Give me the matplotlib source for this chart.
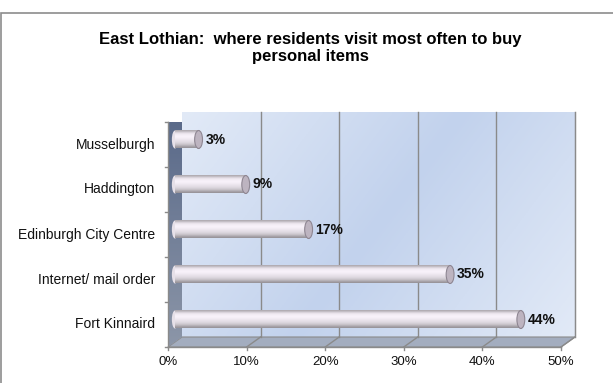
import numpy as np
import matplotlib
matplotlib.use("Agg")
import matplotlib.pyplot as plt
from matplotlib.patches import Polygon, Ellipse, Rectangle
from matplotlib.transforms import ScaledTranslation

plt.rcParams['font.family'] = ['Liberation Sans', 'DejaVu Sans']

# data (bottom to top)
places = ['Fort Kinnaird', 'Internet/ mail order', 'Edinburgh City Centre', 'Haddington', 'Musselburgh']
shares = [44, 35, 17, 9, 3]
xticks = [0, 10, 20, 30, 40, 50]
xlabels = ['0%', '10%', '20%', '30%', '40%', '50%']

fig = plt.figure(figsize=(6.13, 3.83), dpi=100)
ax = fig.add_axes([168/613, 36/383, (561-168)/613, 225/383])
ax.set_xlim(0, 50)
ax.set_ylim(-0.5, len(places) - 0.5)
ax.axis('off')

# outer frame
fig.patches.append(Rectangle((0.0015, -0.1), 1.2, 1.1 - 13/383, transform=fig.transFigure,
                             fill=False, ec='#8c8c8c', lw=1.2, zorder=-1))

# depth offsets for the 3d look
back = ax.transData + ScaledTranslation(0.14, 0.10, fig.dpi_scale_trans)
mid = ax.transData + ScaledTranslation(0.07, 0.05, fig.dpi_scale_trans)
y0, y1 = -0.5, len(places) - 0.5
to_data = ax.transData.inverted()

# back wall gradient
nx, ny = 200, 100
gx, gy = np.meshgrid(np.linspace(0, 1, nx), np.linspace(0, 1, ny))
t = np.abs((gx * 0.7 + (1 - gy) * 0.3) - 0.5) * 2
c_dark = np.array([194, 210, 237]) / 255
c_light = np.array([226, 234, 247]) / 255
wall = c_dark[None, None, :] * (1 - t[..., None]) + c_light[None, None, :] * t[..., None]
ax.imshow(wall, extent=(0, 50, y0, y1), transform=back, aspect='auto', zorder=0,
          origin='lower', clip_on=False)
ax.plot([50, 50], [y0, y1], transform=back, color='#a0a0a0', lw=0.8, zorder=1, clip_on=False)

# floor and left wall, points moved from back plane into data space
def pts(xy_list):
    out = []
    for (xa, ya), is_back in xy_list:
        p = (back if is_back else ax.transData).transform((xa, ya))
        out.append(to_data.transform(p))
    return np.array(out)

floor_xy = pts([((0, y0), False), ((50, y0), False), ((50, y0), True), ((0, y0), True)])
ax.add_patch(Polygon(floor_xy, closed=True, fc='#a3adbf', ec='#8a8a8a', lw=0.8,
                     zorder=1, clip_on=False))

wall_xy = pts([((0, y0), False), ((0, y0), True), ((0, y1), True), ((0, y1), False)])
side = Polygon(wall_xy, closed=True, fc='none', ec='none', zorder=1, clip_on=False)
ax.add_patch(side)
sgrad = np.linspace(0, 1, 100)[:, None, None]
c_top = np.array([88, 104, 136]) / 255
c_bot = np.array([140, 150, 168]) / 255
side_img = c_bot * (1 - sgrad) + c_top * sgrad
im = ax.imshow(side_img, extent=(wall_xy[:, 0].min(), wall_xy[:, 0].max(),
                                 wall_xy[:, 1].min(), wall_xy[:, 1].max()),
               aspect='auto', origin='lower', zorder=1)
im.set_clip_path(side)

# gridlines on wall and floor
for v in xticks[1:]:
    ax.plot([v, v], [y0, y1], transform=back, color='#8a8a8a', lw=1.0, zorder=1, clip_on=False)
    seg = pts([((v, y0), False), ((v, y0), True)])
    ax.plot(seg[:, 0], seg[:, 1], color='#8a8a8a', lw=1.0, zorder=1, clip_on=False)
ax.plot([0, 50], [y0, y0], color='#8a8a8a', lw=1.0, zorder=2, clip_on=False)
ax.plot([0, 0], [y0, y1], color='#8a8a8a', lw=1.0, zorder=2, clip_on=False)

# ticks
for v, lab in zip(xticks, xlabels):
    ax.plot([v, v], [y0, y0 - 0.07], color='#8a8a8a', lw=1.0, clip_on=False)
    ax.text(v, y0 - 0.2, lab, ha='center', va='top', fontsize=9.5, color='#111111')
for k in range(len(places) + 1):
    ax.plot([0, -0.4], [y0 + k, y0 + k], color='#8a8a8a', lw=1.0, clip_on=False)

# cylinder bars
h = 0.4
shade = np.array([0.72, 0.86, 0.96, 0.99, 1.0, 0.98, 0.95, 0.92, 0.88, 0.82, 0.72, 0.62])[::-1]
base = np.array([236, 230, 238]) / 255
grad = np.clip(shade[:, None, None] * base[None, None, :] * 1.05, 0, 1)
for i, (name, v) in enumerate(zip(places, shares)):
    ax.add_patch(Ellipse((0, i), 0.8, h, transform=mid, fc='#e6e0e8', ec='none',
                         zorder=3, clip_on=False))
    ax.imshow(grad, extent=(0, v, i - h/2, i + h/2), transform=mid, aspect='auto',
              zorder=3, origin='lower', interpolation='bilinear', clip_on=False)
    ax.add_patch(Ellipse((v, i), 1.0, h, transform=mid, fc='#bdb4c0', ec='#8e8692',
                         lw=0.8, zorder=4, clip_on=False))
    ax.annotate(f'{v}%', (v, i), xycoords=mid, xytext=(7, 0), textcoords='offset pixels',
                ha='left', va='center', fontsize=10, fontweight='bold', color='#111111', zorder=5)
    ax.text(-1.6, i, name, ha='right', va='center', fontsize=10, color='#111111')

ax.set_xlim(0, 50)
ax.set_ylim(y0, y1)

fig.text(310/613, 1 - 48/383, 'East Lothian:  where residents visit most often to buy\npersonal items',
         ha='center', va='center', fontsize=12, fontweight='bold', linespacing=1.2)

fig.savefig('out.png', dpi=100)
